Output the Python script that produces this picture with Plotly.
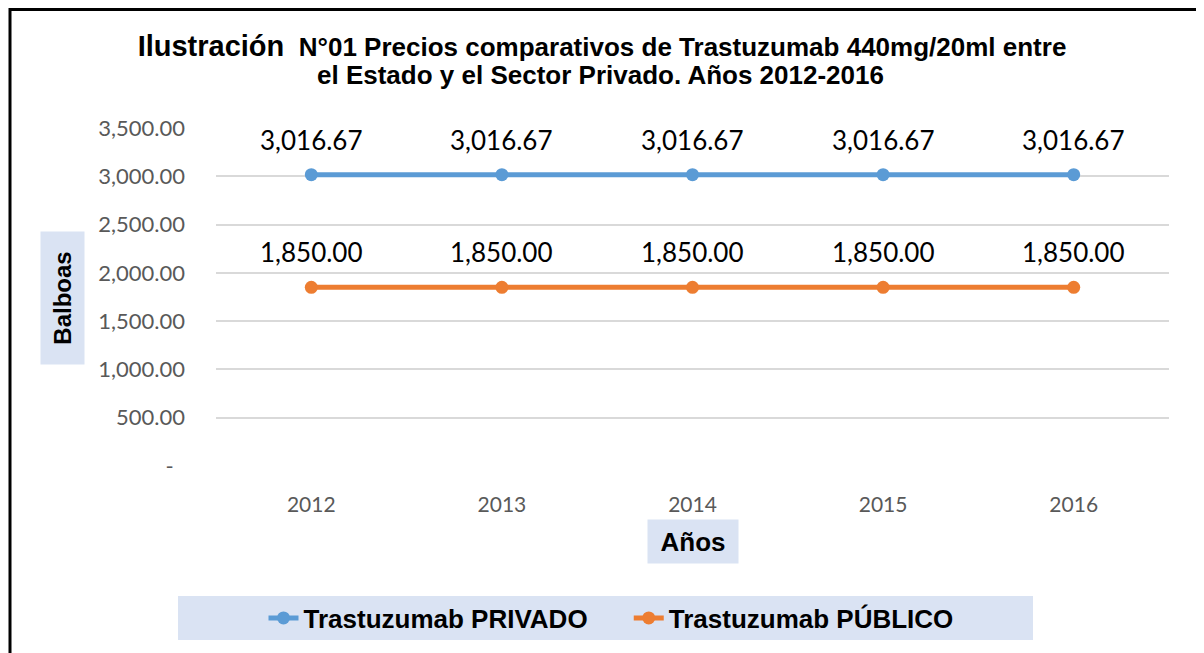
import plotly.graph_objects as go

years = ["2012", "2013", "2014", "2015", "2016"]
privado = [3016.67, 3016.67, 3016.67, 3016.67, 3016.67]
publico = [1850.00, 1850.00, 1850.00, 1850.00, 1850.00]
y_ticks = [0, 500, 1000, 1500, 2000, 2500, 3000, 3500]
y_ticktext = ["-\u00a0\u00a0"] + [f"{v:,.2f}" for v in y_ticks[1:]]

OFF = 8  # page body margin
W, H = 1204 - OFF, 653 - OFF
L, R, T, B = 216, 1169, 128, 466  # plot area in reference pixels


def px(x):
    return (x - L) / (R - L)


def py(y):
    return (B - y) / (B - T)


BLUE = "#5B9BD5"
ORANGE = "#ED7D31"
BOXBG = "#DAE3F3"

fig = go.Figure()
fig.add_trace(go.Scatter(x=years, y=privado, mode="lines+markers",
                         name="Trastuzumab PRIVADO\u00a0\u00a0\u00a0\u00a0\u00a0",
                         line=dict(color=BLUE, width=5),
                         marker=dict(color=BLUE, size=13)))
fig.add_trace(go.Scatter(x=years, y=publico, mode="lines+markers",
                         name="Trastuzumab PÚBLICO",
                         line=dict(color=ORANGE, width=5),
                         marker=dict(color=ORANGE, size=13)))

annotations = []
for series in (privado, publico):
    for i, yv in enumerate(series):
        annotations.append(dict(x=i, y=yv, xref="x", yref="y", text=f"{yv:,.2f}",
                                showarrow=False, yshift=35,
                                xanchor="center", yanchor="middle",
                                font=dict(family="Lato", size=26, color="#000000")))

annotations.append(dict(x=px(62), y=py(298), xref="paper", yref="paper",
                        xanchor="center", yanchor="middle",
                        text="<b>Balboas</b>", textangle=-90, showarrow=False,
                        width=130, height=41, bgcolor=BOXBG,
                        font=dict(family="Liberation Sans", size=24, color="#000000")))
annotations.append(dict(x=px(693), y=py(541), xref="paper", yref="paper",
                        xanchor="center", yanchor="middle",
                        text="<b>Años</b>", showarrow=False,
                        width=88, height=41, bgcolor=BOXBG,
                        font=dict(family="Liberation Sans", size=26, color="#000000")))
annotations.append(dict(x=px(600), y=py(75), xref="paper", yref="paper",
                        xanchor="center", yanchor="middle",
                        text="<b>el Estado y el Sector Privado. Años 2012-2016</b>",
                        showarrow=False,
                        font=dict(family="Liberation Sans", size=26, color="#000000")))

shapes = [
    dict(type="rect", xref="paper", yref="paper", layer="below",
         x0=px(178), x1=px(1033), y0=py(640), y1=py(596),
         fillcolor=BOXBG, line=dict(width=0)),
    dict(type="rect", xref="paper", yref="paper",
         x0=px(10), x1=px(1200.5), y0=py(720), y1=py(9.5),
         fillcolor="rgba(0,0,0,0)", line=dict(color="#000000", width=3)),
]

fig.update_layout(
    width=W, height=H,
    margin=dict(l=L - OFF, r=1204 - R, t=T - OFF, b=653 - B),
    paper_bgcolor="white", plot_bgcolor="white",
    title=dict(
        text="<b><span style='font-size:29px'>Ilustración</span>  N°01 Precios comparativos de Trastuzumab 440mg/20ml entre</b>",
        xref="container", yref="container",
        x=(602 - OFF) / W, xanchor="center", y=1 - (47 - OFF) / H, yanchor="middle",
        font=dict(family="Liberation Sans", size=26, color="#000000")),
    xaxis=dict(type="category", range=[-0.5, 4.5], showgrid=False, showline=False,
               zeroline=False, ticks="", ticklabelstandoff=24,
               tickfont=dict(family="Lato", size=21, color="#595959")),
    yaxis=dict(range=[0, 3500], tickvals=y_ticks, ticktext=y_ticktext,
               showgrid=True, gridcolor="#D9D9D9", gridwidth=1.5, zeroline=False,
               showline=False, ticks="", ticklabelstandoff=30,
               tickfont=dict(family="Lato", size=22, color="#595959")),
    legend=dict(orientation="h", x=px(611), xanchor="center", y=py(618), yanchor="middle",
                bgcolor="rgba(0,0,0,0)",
                font=dict(family="Liberation Sans", size=26, color="#000000", weight="bold")),
    annotations=annotations,
    shapes=shapes,
    showlegend=True,
)

fig.write_html("out.html")
